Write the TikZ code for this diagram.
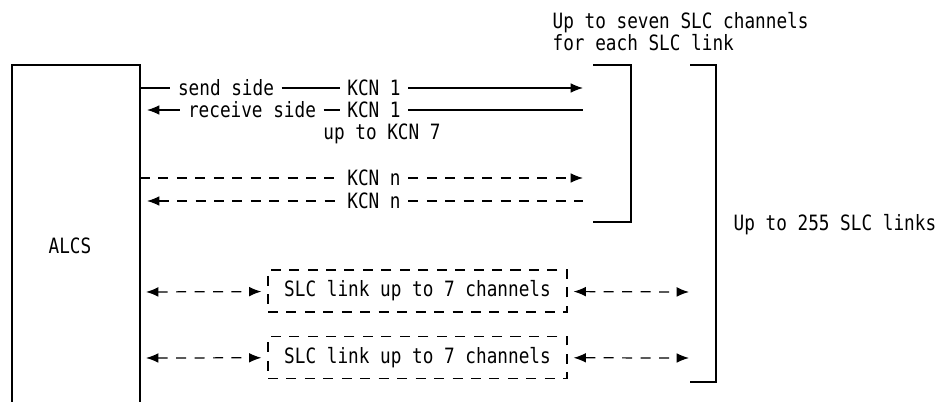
\documentclass[tikz,border=0pt]{standalone}
\usepackage{fontspec}
\newfontfamily\termfont{DejaVu Sans Mono}[FakeStretch=0.84]
\usetikzlibrary{arrows.meta}

\tikzset{
    lbl/.style={inner xsep=4pt, inner ysep=1pt},
    dashline/.style={dash pattern=on 5.7pt off 4.8pt},
    linkbox/.style={draw, dashline, minimum width=5.98cm, minimum height=0.84cm, inner sep=0pt},
}

\begin{document}
\begin{tikzpicture}[x=0.02cm, y=-0.02cm, line width=0.7pt,
    >={Latex[length=7pt, width=5.5pt]},
    font=\termfont\fontsize{12}{12.2}\selectfont]
    \useasboundingbox (0,0) rectangle (940,402);

    % ==================== ALCS (box open at the bottom) ====================
    \draw (12,402) -- (12,65) -- (140,65) -- (140,402);
    \node (alcs) at (70,246) {ALCS};

    % points on the ALCS edge
    \coordinate (e1) at (140,88);
    \coordinate (e2) at (140,110);
    \coordinate (e3) at (140,178);
    \coordinate (e4) at (140,201);
    \coordinate (e5) at (140,292);
    \coordinate (e6) at (140,358);

    % ==================== SLC channels ====================
    \node[lbl] (send)  at (226,88)  {send side};
    \node[lbl] (kcnA)  at (374,88)  {KCN 1};
    \node[lbl] (recv)  at (252,110) {receive side};
    \node[lbl] (kcnB)  at (374,110) {KCN 1};
    \node      (upto)  at (382,134) {up to KCN 7};
    \node[lbl] (kcnC)  at (374,178) {KCN n};
    \node[lbl] (kcnD)  at (374,201) {KCN n};

    \coordinate (t1) at (583,88);
    \coordinate (t2) at (583,110);
    \coordinate (t3) at (583,178);
    \coordinate (t4) at (583,201);

    % 1. KCN 1, solid
    \draw (e1) -- (send);
    \draw (send) -- (kcnA);
    \draw[->] (kcnA) -- (t1);
    \draw[<-, shorten <=0.14cm] (e2) -- (recv);
    \draw (recv) -- (kcnB);
    \draw (kcnB) -- (t2);

    % 2. KCN n, dashed
    \draw[dashline] (e3) -- (kcnC);
    \draw[dashline, ->] (kcnC) -- (t3);
    \draw[dashline, <-, shorten <=0.14cm] (e4) -- (kcnD);
    \draw[dashline] (kcnD) -- (t4);

    % 3. brackets
    \draw (593,65) -- (631,65) -- (631,222) -- (593,222);
    \draw (690,65) -- (716,65) -- (716,382) -- (690,382);

    \node[anchor=west, align=left, inner sep=0pt] (chnote) at (552,31.5)
        {Up to seven SLC channels\\for each SLC link};
    \node[anchor=west, inner sep=0pt] (lnknote) at (733,225) {Up to 255 SLC links};

    % ==================== SLC links ====================
    \node[linkbox] (link1) at (417.5,291)   {SLC link up to 7 channels};
    \node[linkbox] (link2) at (417.5,357.5) {SLC link up to 7 channels};

    \coordinate (r5) at (689,292);
    \coordinate (r6) at (689,358);

    \draw[dashline, <->, shorten <=0.12cm, shorten >=0.12cm] (e5) -- (link1);
    \draw[dashline, <->, shorten <=0.12cm] (link1) -- (r5);
    \draw[dashline, <->, shorten <=0.12cm, shorten >=0.12cm] (e6) -- (link2);
    \draw[dashline, <->, shorten <=0.12cm] (link2) -- (r6);

\end{tikzpicture}
\end{document}
